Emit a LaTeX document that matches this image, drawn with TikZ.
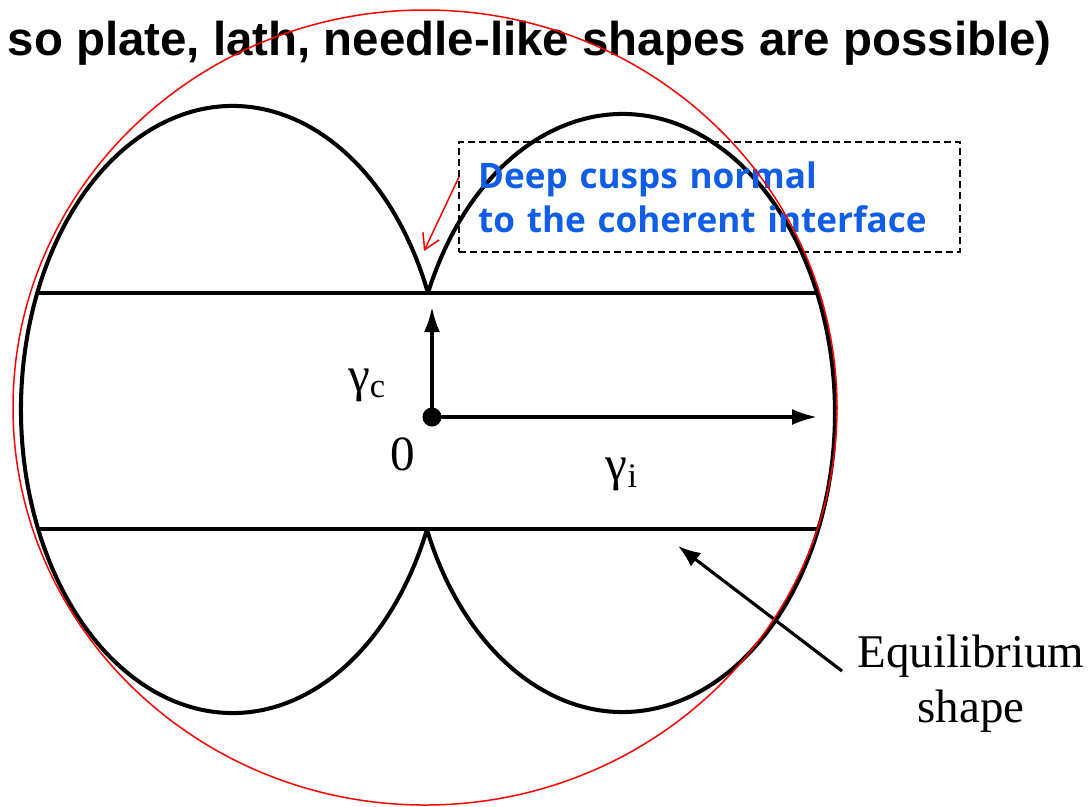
\documentclass[tikz,border=0pt]{standalone}
\usepackage{fontspec}
\setmainfont{Liberation Serif}
\newfontfamily\titolofont{Liberation Sans}
\newfontfamily\notafont{Open Sans}
\usepackage{tikz}
\usetikzlibrary{arrows.meta}
\definecolor{blunota}{RGB}{16,94,232}

\begin{document}
\begin{tikzpicture}[
                x=0.02cm, y=0.02cm,
                % Stile del contorno della forma di equilibrio
                contorno/.style={
                    line width=2.3pt
                },
                % Stile delle due rette della banda centrale
                banda/.style={
                    line width=2.8pt
                },
                % Stile per le frecce nere con la punta piena
                freccia/.style={
                    -{Latex[length=5mm, width=3.2mm]}, 
                    line width=1.8pt
                },
                % Stile della freccia rossa sottile
                freccia rossa/.style={
                    -{Straight Barb[length=3mm, width=3.6mm]}, 
                    draw=red, 
                    line width=0.85pt
                },
                % Stile del riquadro tratteggiato con la nota blu
                nota/.style={
                    draw, 
                    dash pattern=on 4pt off 2.3pt, 
                    line width=0.75pt,
                    minimum width=10.02cm, 
                    minimum height=2.2cm,
                    text width=9.26cm, 
                    inner xsep=0.38cm, 
                    inner ysep=0pt,
                    align=left, 
                    text=blunota,
                    font=\notafont\bfseries\fontsize{20}{25}\selectfont
                },
                etichetta/.style={
                    inner sep=0pt, 
                    font=\fontsize{28}{32}\selectfont
                },
                punto/.style={
                    circle, 
                    fill, 
                    inner sep=0pt, 
                    minimum size=0.38cm
                }
            ]
                \useasboundingbox (0,0) rectangle (1091,-806);
                
                % 1. Titolo in alto (tagliato a sinistra)
                \node [anchor=base east, inner sep=0pt, font=\titolofont\bfseries\fontsize{27}{32}\selectfont] (titolo) at (1052,-55) {so plate, lath, needle-like shapes are possible)};
                
                % 2. I due lobi della forma di equilibrio
                \draw [contorno] (428,-293) arc [start angle=22.57, end angle=336.81, x radius=211.6, y radius=303.5];
                \draw [contorno] (428,-293) arc [start angle=156.34, end angle=-157.17, x radius=212.4, y radius=299];
                
                % 3. Banda centrale (interfaccia coerente)
                \coordinate (bandaNO) at (37.2,-293);
                \coordinate (bandaNE) at (817.2,-293);
                \coordinate (bandaSO) at (38.1,-529);
                \coordinate (bandaSE) at (818.4,-529);
                \draw [banda] (bandaNO) -- (bandaNE);
                \draw [banda] (bandaSO) -- (bandaSE);
                
                % 4. Origine e assi gamma_c, gamma_i
                \node [punto] (origine) at (432,-417) {};
                \coordinate (cimaC) at (432,-307);
                \coordinate (puntaI) at (817,-417);
                \draw [freccia] (origine.center) -- (cimaC);
                \draw [freccia] (origine.center) -- (puntaI);
                \node [etichetta] (gammaC) at (367,-385) {γ\textsubscript{c}};
                \node [etichetta] (zero) at (403,-454) {0};
                \node [etichetta] (gammaI) at (622,-474) {γ\textsubscript{i}};
                
                % 5. Etichetta della forma di equilibrio con la sua freccia
                \node [inner sep=0pt, align=center, font=\fontsize{26.7}{31}\selectfont] (equilibrio) at (971,-683.5) {Equilibrium\\shape};
                \coordinate (codaEq) at (842,-671);
                \coordinate (puntaEq) at (678,-546);
                \draw [freccia, -{Latex[length=4.5mm, width=3.4mm]}] (codaEq) -- (puntaEq);
                
                % 6. Nota blu nel riquadro e freccia rossa verso la cuspide
                \node [nota] (cuspidi) at (709.5,-197) {Deep cusps normal\\to the coherent interface};
                \coordinate (codaRossa) at (459,-177);
                \coordinate (cuspide) at (424,-251);
                \draw [freccia rossa] (codaRossa) -- (cuspide);
                
                % 7. Ellisse rossa
                \draw [red, line width=0.85pt] (425,-407.5) ellipse [x radius=412, y radius=397.5];
                
            \end{tikzpicture}
\end{document}
